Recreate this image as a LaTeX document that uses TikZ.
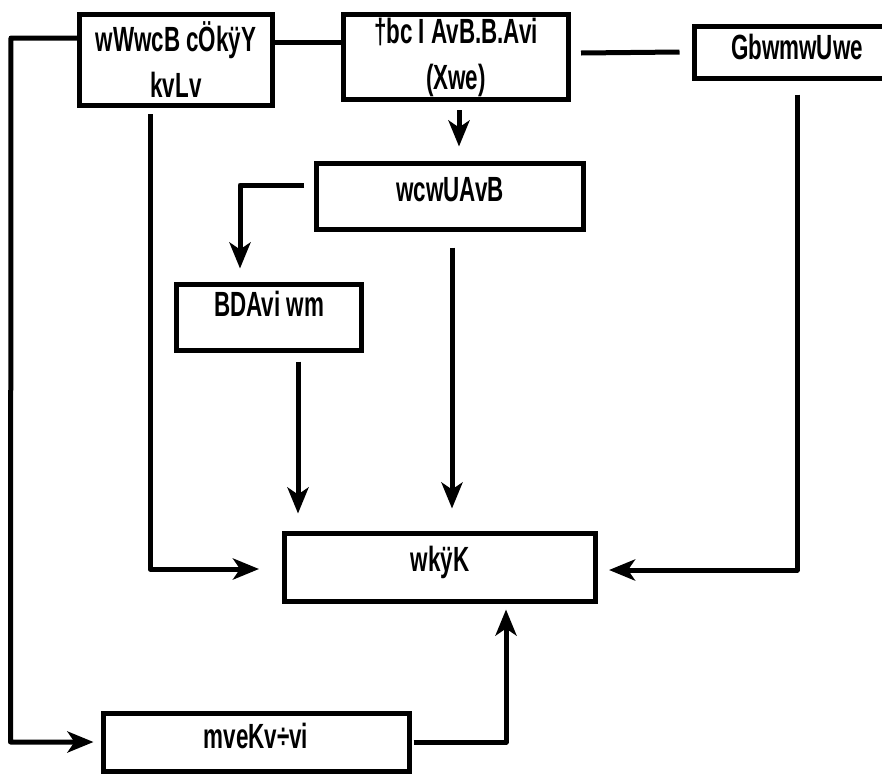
\documentclass[tikz,border=0pt]{standalone}
\usepackage{fontspec}
\setmainfont{Liberation Sans}[FakeStretch=0.64]
\usetikzlibrary{arrows.meta,calc}
\begin{document}
\begin{tikzpicture}[x=1pt,y=-1pt,
  box/.style={draw, line width=5pt, rectangle, inner sep=0pt,
    font=\bfseries\fontsize{35}{46}\selectfont, align=center},
  conn/.style={line width=5pt, line join=round},
  arr/.style={conn, -{Stealth[length=26pt,width=21pt,inset=7pt]}}]
\useasboundingbox (0,0) rectangle (882,774);
\node[box, minimum width=193pt, minimum height=91pt] (A) at (176,60) {wWwcB cÖkÿY\\kvLv};
\node[box, minimum width=225pt, minimum height=85pt] (B) at (456,57) {†bc I AvB.B.Avi\\(Xwe)};
\node[box, minimum width=206pt, minimum height=52pt, text depth=10pt] (C) at (797,52) {GbwmwUwe};
\node[box, minimum width=267pt, minimum height=66pt, text depth=14pt] (D) at (450,196) {wcwUAvB};
\node[box, minimum width=185pt, minimum height=66pt, text depth=26pt] (E) at (269,317) {BDAvi wm};
\node[box, minimum width=311pt, minimum height=68pt, text depth=16pt] (F) at (440,567) {wkÿK};
\node[box, minimum width=306pt, minimum height=58pt, text depth=12pt] (G) at (256,742) {mveKv÷vi};
% connectors
\draw[arr] ([yshift=22pt]A.west) -- ($(A.west)+(-66,-22)$) -- ($(G.west)+(-90,0)$) -- ($(G.west)+(-7,0)$);
\draw[conn] ([yshift=18pt]A.east) -- ($(B.west)+(0,-15)$);
\draw[conn] ($(B.east)+(10,-4)$) -- ($(C.west)+(-12,0)$);
\draw[arr] ($(B.south)+(3,8)$) -- ($(D.north)+(9,-14)$);
\draw[arr] ($(D.west)+(-10,-11)$) -| ($(E.north)+(-29,-13)$);
\draw[arr] ($(D.south)+(2,16)$) -- ($(F.north)+(12,-22)$);
\draw[arr] ($(E.south)+(29,9)$) -- ($(F.north)+(-142,-17)$);
\draw[arr] ($(A.south)+(-26,6)$) |- ($(F.west)+(-23,2)$);
\draw[arr] ($(C.south)+(0,14)$) |- ($(F.east)+(11,3)$);
\draw[arr] ($(G.east)+(2,0)$) -| ($(F.south)+(66,6)$);
\end{tikzpicture}
\end{document}
